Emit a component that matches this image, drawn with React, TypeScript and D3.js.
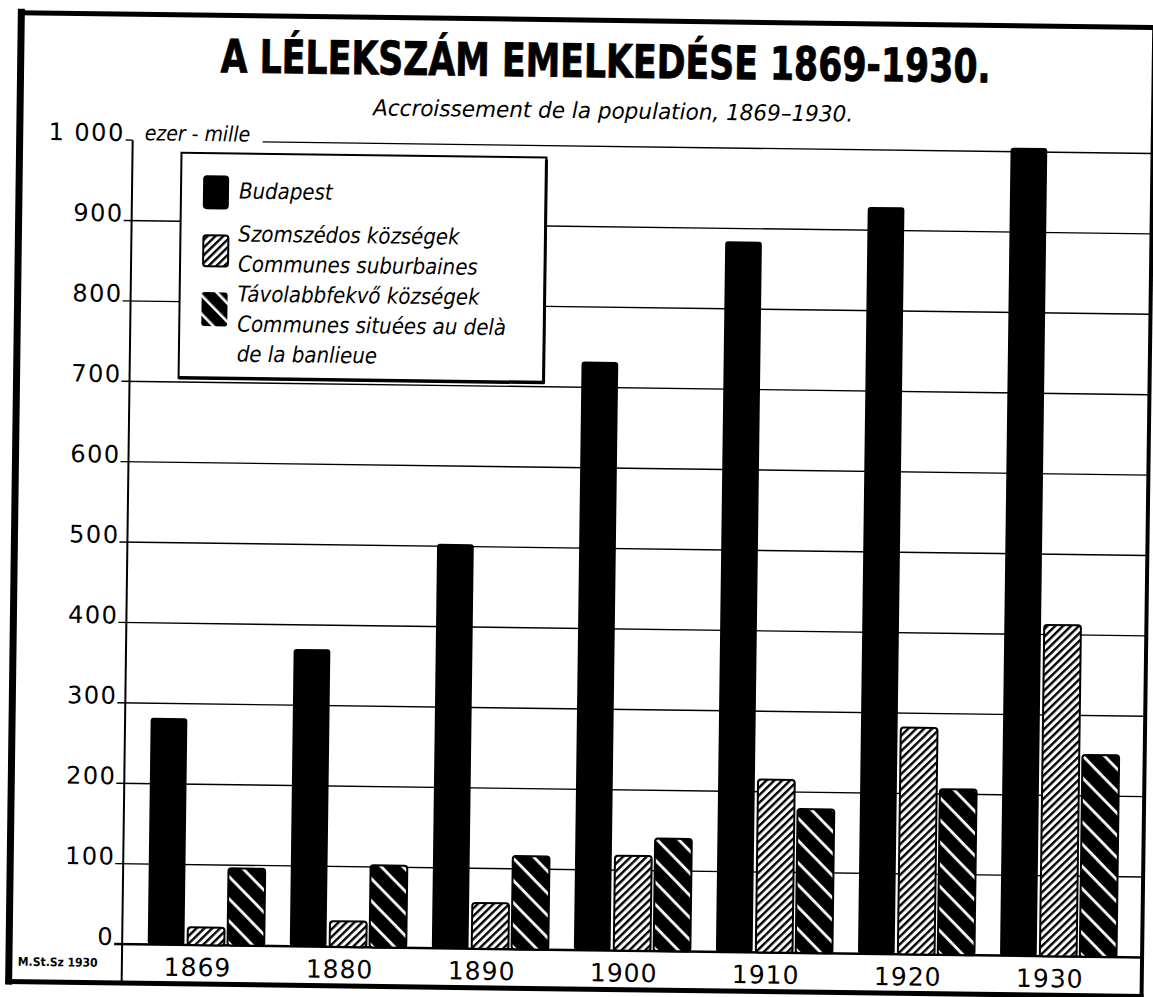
import * as d3 from "d3";

// values, thousands of inhabitants
const years = ["1869", "1880", "1890", "1900", "1910", "1920", "1930"];
const budapest = [282, 370, 503, 732, 884, 929, 1005];
const suburban = [22, 32, 57, 118, 215, 282, 412];
const distant = [96, 102, 116, 140, 179, 206, 251];

const yTicks = [0, 100, 200, 300, 400, 500, 600, 700, 800, 900, 1000];
const yTickLabels = ["0", "100", "200", "300", "400", "500", "600", "700", "800", "900", "1 000"];

const seriesKeys = ["b", "s", "d"];
const legendLines = [
  ["Budapest"],
  ["Szomszédos községek", "Communes suburbaines"],
  ["Távolabbfekvő községek", "Communes situées au delà", "de la banlieue"],
];

const W = 1153;
const H = 997;
const condensed = "'DejaVu Sans Condensed', 'DejaVu Sans', sans-serif";
const wide = "'DejaVu Sans', sans-serif";

export default function App() {
  const axisX = 128;
  const right = 1148;
  const y = d3.scaleLinear().domain([0, 1000]).range([950, 146]);
  const x0 = d3.scaleBand().domain(years).range([axisX, right]).paddingInner(0.18).paddingOuter(0.18);
  const x1 = d3.scaleBand().domain(seriesKeys).range([0, x0.bandwidth()]).paddingInner(0.08);
  const fills: Record<string, string> = { b: "#000", s: "url(#hatchS)", d: "url(#hatchD)" };
  const values: Record<string, number[]> = { b: budapest, s: suburban, d: distant };

  return (
    <svg width={W} height={H} style={{ position: "absolute", left: 0, top: 0, background: "#fff" }}>
      <defs>
        <pattern id="hatchS" patternUnits="userSpaceOnUse" width={5.5} height={5.5} patternTransform="rotate(45)">
          <rect width={5.5} height={5.5} fill="#fff" />
          <rect width={2.4} height={5.5} fill="#000" />
        </pattern>
        <pattern id="hatchD" patternUnits="userSpaceOnUse" width={15.5} height={15.5} patternTransform="rotate(-45)">
          <rect width={15.5} height={15.5} fill="#000" />
          <rect x={6} width={2.8} height={15.5} fill="#fff" />
        </pattern>
        <pattern id="legendD" patternUnits="userSpaceOnUse" width={13} height={13} patternTransform="rotate(-45)">
          <rect width={13} height={13} fill="#000" />
          <rect x={5} width={2.6} height={13} fill="#fff" />
        </pattern>
      </defs>
      <rect width={W} height={H} fill="#fff" />
      <g transform="rotate(0.75 576 500)">
        {/* title */}
        <text x={600} y={77} textAnchor="middle" fontFamily={condensed} fontWeight={700} fontSize={46}
          stroke="#000" strokeWidth={0.8}
          textLength={770} lengthAdjust="spacingAndGlyphs">A LÉLEKSZÁM EMELKEDÉSE 1869-1930.</text>
        <text x={608} y={118} textAnchor="middle" fontFamily={condensed} fontStyle="italic" fontSize={22}
          textLength={480} lengthAdjust="spacingAndGlyphs">Accroissement de la population, 1869–1930.</text>

        {/* grid */}
        {yTicks.map((t, i) => (
          <g key={t}>
            <line x1={t === 1000 ? 258 : 120} x2={right} y1={y(t)} y2={y(t)} stroke="#000"
              strokeWidth={t === 0 ? 2.5 : 1.4} />
            {t === 1000 && <line x1={121} x2={axisX} y1={y(t)} y2={y(t)} stroke="#000" strokeWidth={1.4} />}
            <text x={120} y={y(t) + 1} textAnchor="end" fontFamily={wide} fontSize={24} letterSpacing={1.5}
              fill="#000">{yTickLabels[i]}</text>
          </g>
        ))}
        <text x={140} y={y(1000)} fontFamily={condensed} fontStyle="italic" fontSize={21}>ezer - mille</text>
        <line x1={axisX} x2={axisX} y1={y(1000)} y2={990} stroke="#000" strokeWidth={2} />

        {/* bars */}
        {years.map((yr, i) => (
          <g key={yr} transform={`translate(${x0(yr)},0)`}>
            {seriesKeys.map((k) => {
              const v = values[k][i];
              return (
                <rect key={k} x={x1(k)} y={y(v)} width={x1.bandwidth()} height={y(0) - y(v)} rx={3}
                  fill={fills[k]} stroke="#000" strokeWidth={k === "b" ? 0 : 2} />
              );
            })}
          </g>
        ))}

        {/* legend */}
        <rect x={177} y={158} width={365} height={225} fill="#fff" stroke="#000" strokeWidth={2} />
        <line x1={177} x2={543} y1={383} y2={383} stroke="#000" strokeWidth={3.5} />
        <line x1={542} x2={542} y1={160} y2={384} stroke="#000" strokeWidth={3} />
        <rect x={199} y={180} width={26} height={34} rx={4} fill="#000" />
        <rect x={200} y={240} width={25} height={31} rx={3} fill="url(#hatchS)" stroke="#000" strokeWidth={2} />
        <rect x={199} y={297} width={26} height={34} rx={3} fill="url(#legendD)" />
        {legendLines.map((lines, i) =>
          lines.map((txt, j) => (
            <text key={`${i}-${j}`} x={235} y={[203, 246, 306][i] + j * 30}
              fontFamily={condensed} fontStyle="italic" fontSize={22}>{txt}</text>
          ))
        )}

        {/* year row */}
        {years.map((yr) => (
          <text key={yr} x={(x0(yr) ?? 0) + x0.bandwidth() * 0.43} y={981} textAnchor="middle"
            fontFamily={wide} fontSize={25} letterSpacing={1}>{yr}</text>
        ))}
        <text x={24} y={973} fontFamily={condensed} fontWeight={700} fontSize={12}>M.St.Sz 1930</text>

        {/* frame */}
        <line x1={15} x2={15} y1={16} y2={992} stroke="#000" strokeWidth={7} />
        <line x1={12} x2={1160} y1={20} y2={20} stroke="#000" strokeWidth={5} />
        <line x1={1148} x2={1148} y1={20} y2={992} stroke="#000" strokeWidth={4} />
        <line x1={12} x2={1150} y1={989} y2={989} stroke="#000" strokeWidth={5} />
      </g>
    </svg>
  );
}
